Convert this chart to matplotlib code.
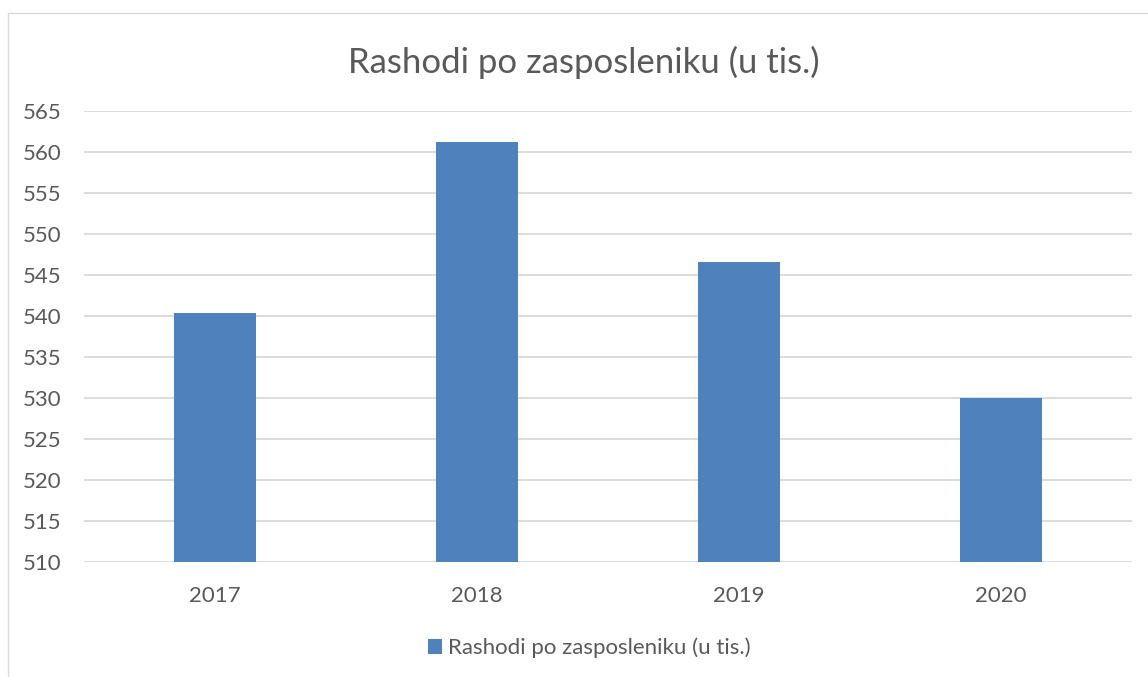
import matplotlib.pyplot as plt
from matplotlib.patches import Rectangle

years = ["2017", "2018", "2019", "2020"]
values = [540.4, 561.2, 546.6, 530.0]
series_name = "Rashodi po zasposleniku (u tis.)"

W, H = 1148, 677
plt.rcParams['font.family'] = ['Lato', 'DejaVu Sans']

fig = plt.figure(figsize=(W / 100, H / 100), dpi=100)
# chart frame
fig.patches.append(Rectangle((8 / W, -0.05), 1.2, (H - 13) / H + 0.05,
                             transform=fig.transFigure, fill=False,
                             edgecolor='#d9d9d9', linewidth=1))

ax = fig.add_axes([84 / W, 1 - 562 / H, (1132 - 84) / W, (562 - 111) / H])
x = range(len(years))
ax.bar(x, values, width=0.313, color='#4f81bd', label=series_name, zorder=3)
ax.set_ylim(510, 565)
ax.set_xlim(-0.5, len(years) - 0.5)
ax.set_yticks(range(510, 566, 5))
ax.set_xticks(list(x))
ax.set_xticklabels(years)
ax.grid(axis='y', color='#d9d9d9', linewidth=1.3, zorder=0)
for s in ax.spines.values():
    s.set_visible(False)
ax.tick_params(length=0, labelsize=16, colors='#595959')
ax.tick_params(axis='x', pad=17)
ax.tick_params(axis='y', pad=16)

fig.text(584 / W, 1 - 62 / H, series_name, ha='center', va='center',
         fontsize=25, color='#595959')
fig.legend(loc='center', bbox_to_anchor=(589 / W, 1 - 648 / H), frameon=False,
           fontsize=16, labelcolor='#595959', handlelength=0.65,
           handleheight=0.65, handletextpad=0.25)

fig.savefig('out.png', dpi=100)
